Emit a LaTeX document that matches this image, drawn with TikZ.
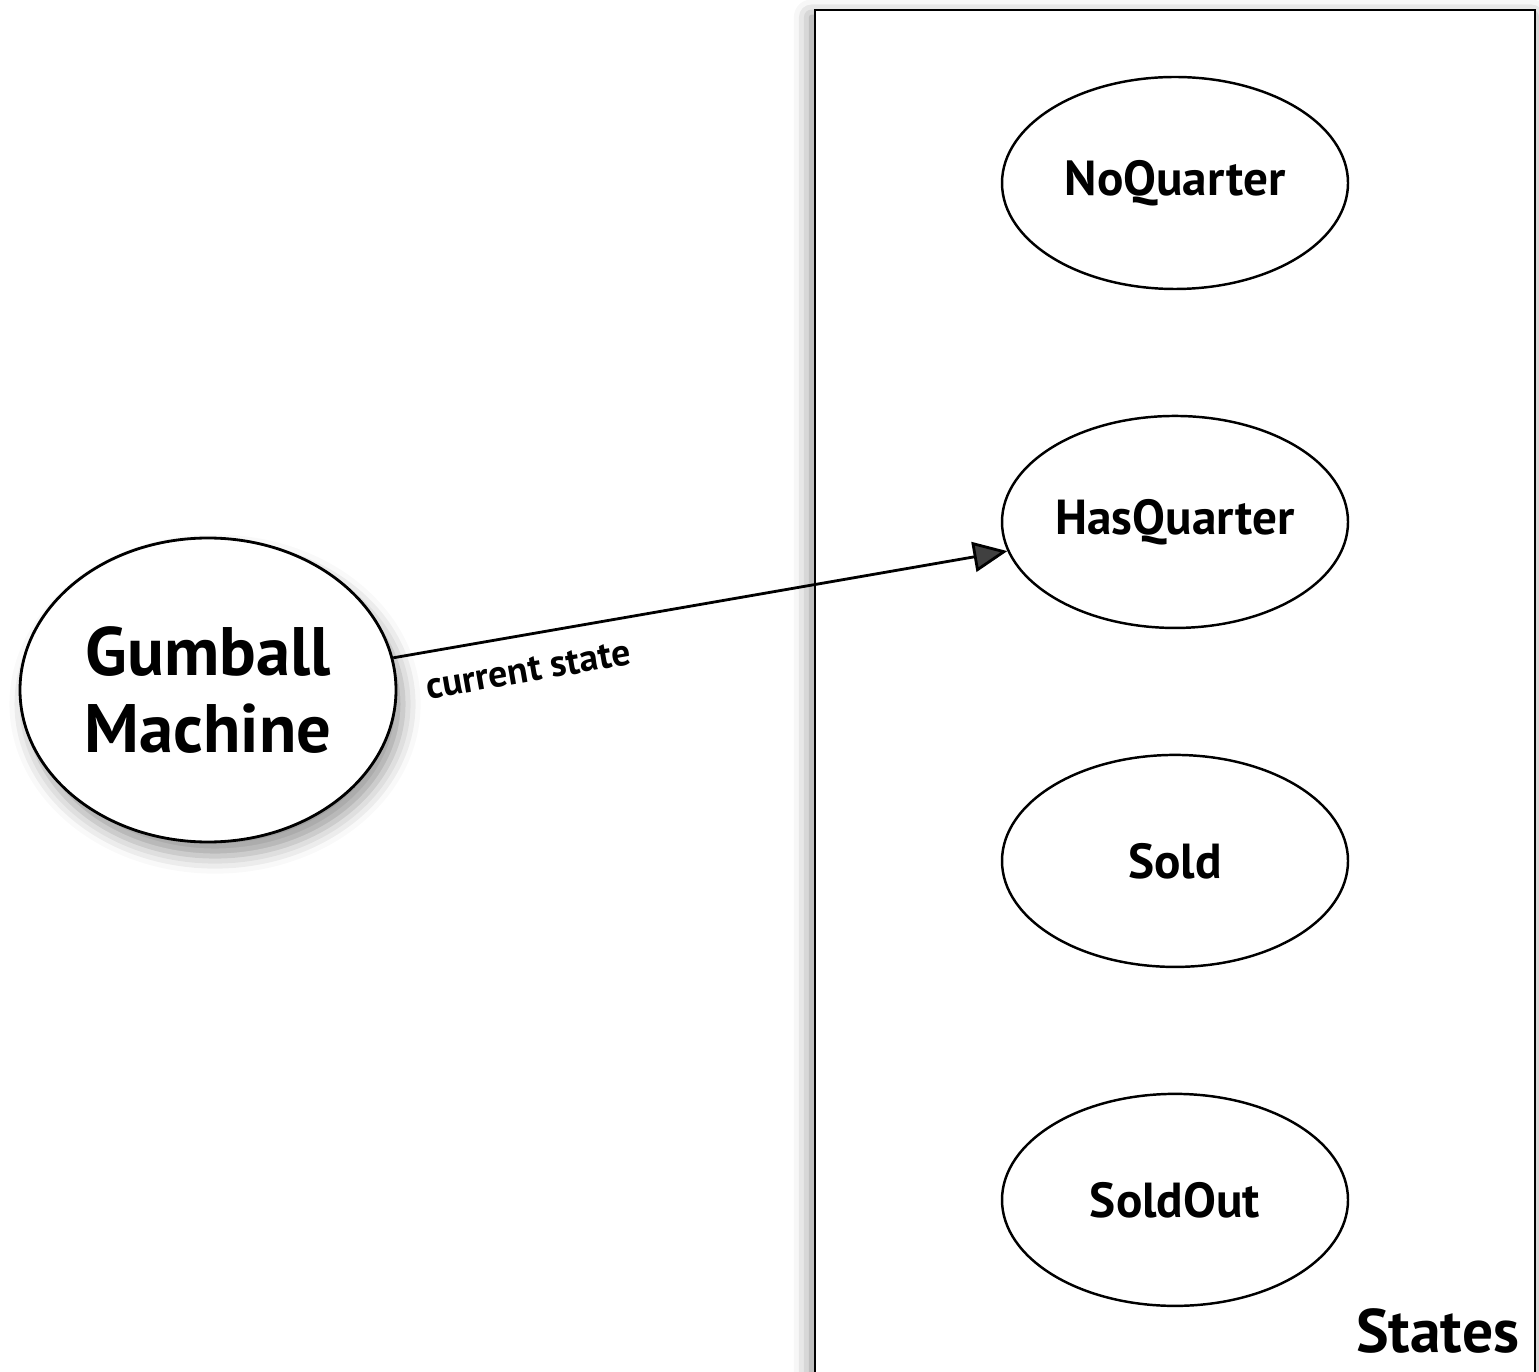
\documentclass[tikz,border=0pt]{standalone}
\usepackage{fontspec}
\setmainfont{PT Sans}
\usetikzlibrary{shapes.geometric,positioning,arrows.meta,shadows.blur}

\begin{document}
\begin{tikzpicture}[
    state/.style={ellipse, draw, line width=0.7pt, fill=white,
      minimum width=3.46cm, minimum height=2.12cm, inner sep=0pt,
      font=\bfseries\fontsize{14}{16}\selectfont},
    machine/.style={ellipse, draw, line width=0.8pt, fill=white,
      minimum width=3.76cm, minimum height=3.04cm, inner sep=0pt, align=center,
      font=\bfseries\fontsize{19.5}{22}\selectfont,
      blur shadow={shadow xshift=2pt, shadow yshift=-4pt, shadow blur radius=5pt}},
    link/.style={-{Triangle[length=0.34cm, width=0.3cm]}, line width=0.8pt}
  ]
  \useasboundingbox (0,0) rectangle (15.39,-13.72);
  % box of states
  \draw[line width=0.8pt, fill=white,
    blur shadow={shadow xshift=-1pt, shadow yshift=-2pt, shadow blur radius=5pt,
      shadow opacity=50}]
    (8.15,-0.1) rectangle (15.35,-14.0);
  \node[anchor=base east, inner sep=0pt, font=\bfseries\fontsize{17.5}{20}\selectfont]
    (stateslabel) at (15.2,-13.52) {States};

  \node[state] (noquarter) at (11.75,-1.83) {NoQuarter};
  \node[state, below=1.245cm of noquarter] (hasquarter) {HasQuarter};
  \node[state, below=1.245cm of hasquarter] (sold) {Sold};
  \node[state, below=1.245cm of sold] (soldout) {SoldOut};

  \node[machine] (gumball) at (2.08,-6.9) {Gumball\\Machine};

  \draw[link] (gumball) -- node[sloped, below=0.1cm, pos=0.21,
    font=\bfseries\fontsize{10.8}{12}\selectfont] (curlabel) {current state} (hasquarter);
\end{tikzpicture}
\end{document}
